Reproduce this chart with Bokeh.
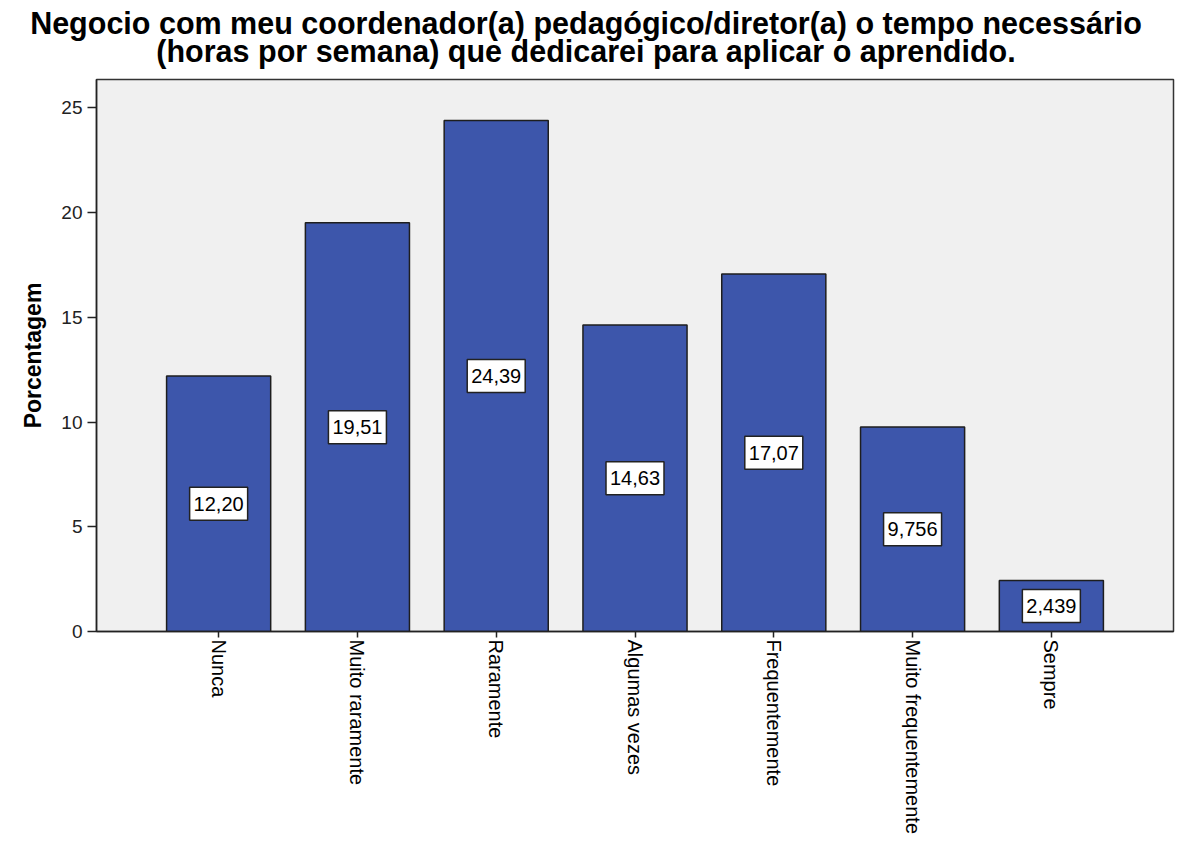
import math
from bokeh.plotting import figure
from bokeh.layouts import column
from bokeh.models import ColumnDataSource, FactorRange, Range1d, FixedTicker
from bokeh.core.properties import value
from bokeh.embed import file_html
from bokeh.resources import INLINE

categories = ["Nunca", "Muito raramente", "Raramente", "Algumas vezes",
              "Frequentemente", "Muito frequentemente", "Sempre"]
percentages = [12.20, 19.51, 24.39, 14.63, 17.07, 9.756, 2.439]
y_ticks = [0, 5, 10, 15, 20, 25]
title_lines = ["Negocio com meu coordenador(a) pedagógico/diretor(a) o tempo necessário",
               "(horas por semana) que dedicarei para aplicar o aprendido."]
y_label = "Porcentagem"

FONT = "Liberation Sans"
W = 1175
TOP_H = 78

# ---- title strip (a bare figure used only to hold the two title lines) ----
t = figure(width=W, height=TOP_H, output_backend="svg", toolbar_location=None,
           x_range=Range1d(0, W), y_range=Range1d(0, TOP_H))
t.min_border = 0
t.min_border_left = 0
t.min_border_right = 0
t.min_border_top = 0
t.min_border_bottom = 0
t.axis.visible = False
t.xaxis.visible = False
t.yaxis.visible = False
t.grid.visible = False
t.outline_line_color = None
t.background_fill_color = "white"
t.title.visible = False
tsrc = ColumnDataSource(dict(x=[585.5, 585.5], y=[TOP_H - 22, TOP_H - 50], txt=title_lines))
t.text(x="x", y="y", text="txt", source=tsrc, text_align="center",
       text_baseline="middle", text_font=value(FONT), text_font_style="bold",
       text_font_size="30.5px", text_color="black")

# ---- main chart ----
labels = [f"{v:#.4g}".replace(".", ",") for v in percentages]
src = ColumnDataSource(dict(cat=categories, val=percentages,
                            mid=[v / 2 for v in percentages], lab=labels))

p = figure(width=W, height=837 - TOP_H, output_backend="svg", toolbar_location=None,
           x_range=FactorRange(*categories, range_padding=0.38, range_padding_units="absolute"),
           y_range=Range1d(0, 26.35))
p.min_border_left = 96
p.min_border_right = 2
p.min_border_top = 1
p.min_border_bottom = 10
p.title.visible = False
p.background_fill_color = "#F0F0F0"
p.border_fill_color = "white"
p.outline_line_color = "#333333"
p.outline_line_width = 1.5
p.xgrid.visible = False
p.ygrid.visible = False

for fig in (t, p):
    if "frame_align" in fig.properties():
        fig.frame_align = False

p.vbar(x="cat", top="val", width=0.75, source=src, fill_color="#3D56AB",
       line_color="#1E1E1E", line_width=1.5)

p.rect(x="cat", y="mid", width=58, height=33, width_units="screen", height_units="screen",
       source=src, fill_color="white", line_color="#222222", line_width=1.5)
p.text(x="cat", y="mid", text="lab", source=src, text_align="center",
       text_baseline="middle", text_font=value(FONT), text_font_size="20px",
       text_color="black")

xa = p.xaxis[0]
xa.major_label_orientation = -math.pi / 2
xa.major_label_text_font = FONT
xa.major_label_text_font_size = "20px"
xa.major_label_text_color = "black"
xa.major_tick_out = 6
xa.major_tick_in = 0
xa.minor_tick_line_color = None
xa.axis_line_color = "#222222"
xa.axis_line_width = 1.5
xa.major_tick_line_color = "#222222"
xa.major_tick_line_width = 1.5
xa.major_label_standoff = 2

ya = p.yaxis[0]
ya.ticker = FixedTicker(ticks=y_ticks)
ya.major_label_text_font = FONT
ya.major_label_text_font_size = "19px"
ya.major_label_text_color = "#222222"
ya.major_tick_out = 9
ya.major_tick_in = 0
ya.minor_tick_line_color = None
ya.axis_line_color = "#222222"
ya.axis_line_width = 1.5
ya.major_tick_line_color = "#222222"
ya.major_tick_line_width = 1.5
ya.axis_label = y_label
ya.axis_label_text_font = FONT
ya.axis_label_text_font_style = "bold"
ya.axis_label_text_font_size = "23px"
ya.axis_label_text_color = "black"
ya.axis_label_standoff = 12

layout = column(t, p, spacing=0)
open("out.html", "w").write(file_html(layout, INLINE))
